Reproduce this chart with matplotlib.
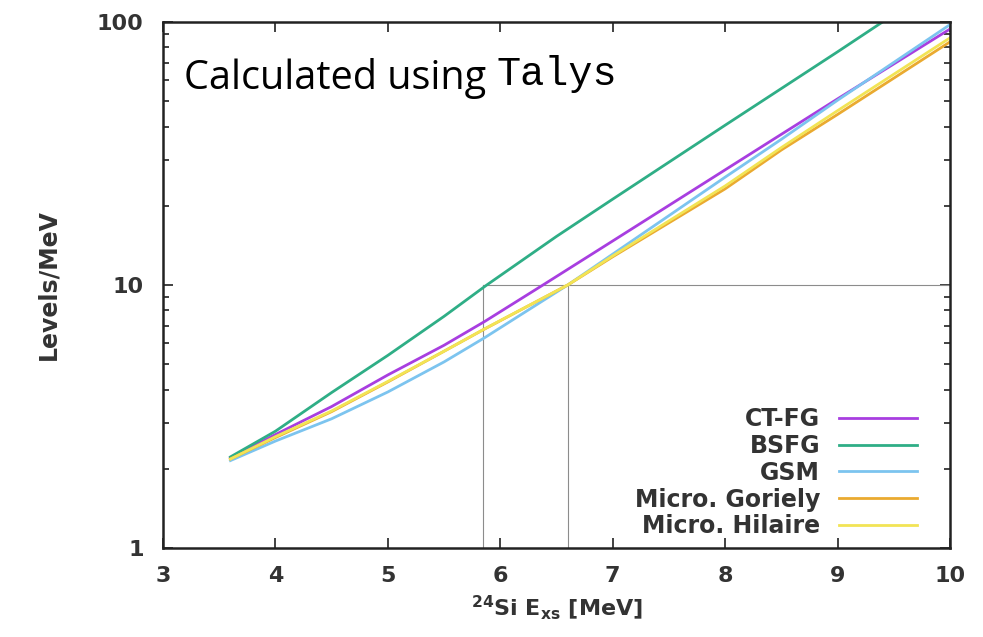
import matplotlib.pyplot as plt
from matplotlib.ticker import FixedLocator, LogLocator, NullFormatter, NullLocator

# excitation energy (MeV) and level densities
e_ctfg = [3.6, 4.0, 4.5, 5.0, 5.5, 5.86, 6.38, 7.0, 8.0, 8.5, 9.0, 10.0]
ctfg = [2.2, 2.7, 3.45, 4.55, 5.9, 7.26, 10.0, 14.7, 27.4, 37.4, 51.0, 94.0]

e_bsfg = [3.6, 4.0, 4.5, 5.0, 5.5, 5.88, 6.5, 7.0, 8.0, 9.0, 9.4]
bsfg = [2.22, 2.78, 3.9, 5.4, 7.6, 10.0, 15.3, 21.2, 40.5, 77.0, 100.0]

e_gsm = [3.6, 4.0, 4.5, 5.0, 5.5, 5.86, 6.6, 7.0, 8.0, 8.5, 9.0, 10.0]
gsm = [2.15, 2.55, 3.1, 3.92, 5.1, 6.3, 10.0, 13.1, 25.7, 35.8, 50.4, 97.7]

e_gor = [3.6, 4.0, 4.5, 5.0, 5.5, 5.86, 6.6, 7.0, 8.0, 8.5, 9.0, 10.0]
goriely = [2.18, 2.63, 3.3, 4.28, 5.6, 6.8, 10.0, 12.8, 23.2, 32.6, 44.5, 84.0]

e_hil = [3.6, 4.0, 4.5, 5.0, 5.5, 5.86, 6.6, 7.0, 8.0, 8.5, 9.0, 10.0]
hilaire = [2.18, 2.65, 3.32, 4.3, 5.6, 6.81, 10.0, 12.9, 23.8, 33.3, 46.0, 87.0]

# reference crossings at 10 levels/MeV
e_cross = [5.85, 6.6]
rho_ref = 10

fig = plt.figure(figsize=(9.83, 6.37), dpi=100)
ax = fig.add_axes([0.1658, 0.1397, 0.8006, 0.8258])

gc = '#8c8c8c'
ax.plot([e_cross[0], 10], [rho_ref, rho_ref], color=gc, lw=0.8)
for e in e_cross:
    ax.plot([e, e], [1, rho_ref], color=gc, lw=0.8)

lw = 2.0
ax.plot(e_ctfg, ctfg, color='#a83ee0', lw=lw, label='CT-FG')
ax.plot(e_bsfg, bsfg, color='#2fae86', lw=lw, label='BSFG')
ax.plot(e_gsm, gsm, color='#7cc4ef', lw=lw, label='GSM')
ax.plot(e_gor, goriely, color='#eaaa30', lw=lw, label='Micro. Goriely')
ax.plot(e_hil, hilaire, color='#f2e455', lw=lw, label='Micro. Hilaire')

ax.set_yscale('log')
ax.set_xlim(3, 10)
ax.set_ylim(1, 100)
ax.xaxis.set_major_locator(FixedLocator([3, 4, 5, 6, 7, 8, 9, 10]))
ax.xaxis.set_minor_locator(NullLocator())
ax.yaxis.set_major_locator(FixedLocator([1, 10, 100]))
ax.yaxis.set_major_formatter(plt.FuncFormatter(lambda v, p: '%d' % v))
ax.yaxis.set_minor_locator(LogLocator(subs=range(2, 10)))
ax.yaxis.set_minor_formatter(NullFormatter())

tc = '#333333'
ax.tick_params(which='both', direction='in', top=True, right=True,
               colors=tc, labelsize=16, width=1.3)
ax.tick_params(which='major', length=7)
ax.tick_params(axis='x', which='major', pad=13)
ax.tick_params(axis='y', which='major', pad=14)
ax.tick_params(which='minor', length=4)
for lab in ax.get_xticklabels() + ax.get_yticklabels():
    lab.set_fontweight('bold')
for s in ax.spines.values():
    s.set_linewidth(1.8)
    s.set_color('#222222')

ax.set_xlabel(r'$^{\mathbf{24}}$Si E$_{\mathbf{xs}}$ [MeV]', fontsize=16, color=tc,
              fontweight='bold', labelpad=5)
ax.set_ylabel('Levels/MeV', fontsize=17, color=tc, fontweight='bold', labelpad=26)

leg = ax.legend(loc='lower right', bbox_to_anchor=(0.985, -0.022), markerfirst=False,
                frameon=False, prop={'size': 17, 'weight': 'bold'},
                handlelength=3.3, handletextpad=0.8, labelspacing=0.12)
for t in leg.get_texts():
    t.set_color(tc)

t1 = ax.text(0.027, 0.873, 'Calculated using ', transform=ax.transAxes, fontsize=28.5,
             family='Open Sans', va='baseline', ha='left')
ax.annotate('Talys', xy=(1, 0), xycoords=t1, xytext=(0, 4), textcoords='offset points',
            fontsize=29, family='Liberation Mono', va='bottom', ha='left')

fig.savefig('out.png', dpi=100)
